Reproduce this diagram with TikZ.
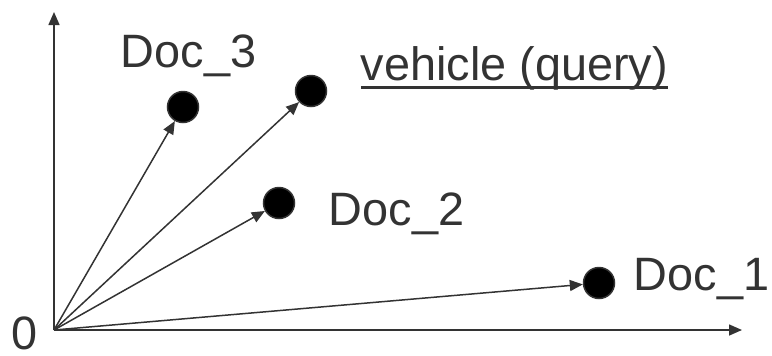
\documentclass[tikz,border=0pt]{standalone}
\usepackage{fontspec}
\setmainfont{Liberation Sans}
\usepackage{tikz}
\usetikzlibrary{arrows.meta}

% underline a bit heavier than \underline gives
\newcommand{\thickul}[1]{\setbox0\hbox{#1}\rlap{\rule[-8.5bp]{\wd0}{2.5bp}}\box0}

\begin{document}
\begin{tikzpicture}[x=1bp, y=-1bp, line width=1.5bp, >={Triangle[length=13bp, width=11bp]}]

\definecolor{inkgray}{RGB}{51, 51, 51}

\tikzset{
  docdot/.style={draw=inkgray, fill=black, circle, inner sep=0pt, minimum size=31bp},
  doclabel/.style={text=inkgray, inner sep=0pt, anchor=base west, font=\fontsize{47}{52}\selectfont},
  vec/.style={draw=inkgray, ->}
}

\useasboundingbox (0,0) rectangle (772,355);

% Axes
\coordinate (origin) at (54, 330);
\coordinate (ytip) at (54, 12);
\coordinate (xtip) at (742, 330);
\draw[vec] (origin) -- (ytip);
\draw[vec] (origin) -- (xtip);
\node[doclabel] (zero) at (11, 349) {0};

% Documents and query
\node[docdot] (doc3) at (183, 107) {};
\node[docdot] (query) at (311, 91) {};
\node[docdot] (doc2) at (279, 203) {};
\node[docdot] (doc1) at (599, 283) {};

\node[doclabel] (doc3label) at (120, 67) {Doc\_3};
\node[doclabel] (querylabel) at (360, 80) {\thickul{vehicle (query)}};
\node[doclabel] (doc2label) at (328, 225) {Doc\_2};
\node[doclabel] (doc1label) at (633, 290) {Doc\_1};

% Vectors from the origin
\draw[vec] (origin) -- (doc3);
\draw[vec] (origin) -- (query);
\draw[vec] (origin) -- (doc2);
\draw[vec] (origin) -- (doc1);

\end{tikzpicture}
\end{document}
